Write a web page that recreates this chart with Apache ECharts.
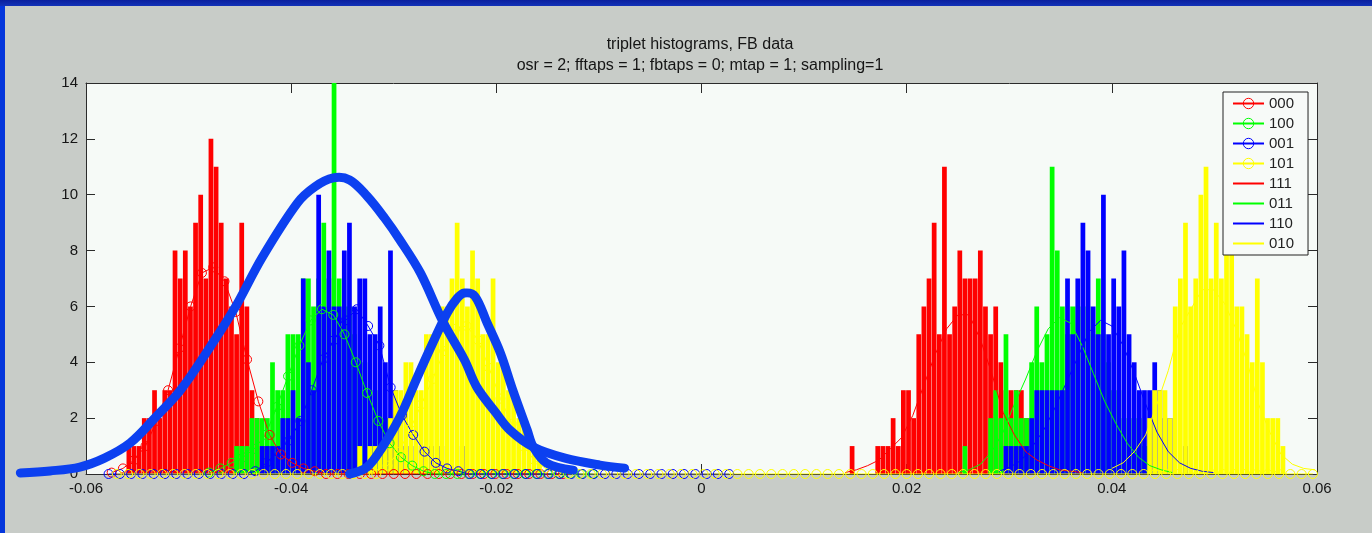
<!DOCTYPE html>
<html><head><meta charset="utf-8">
<script src="https://cdn.jsdelivr.net/npm/echarts@6/dist/echarts.min.js"></script>
<style>
html,body{margin:0;padding:0;width:1372px;height:533px;overflow:hidden;
background:linear-gradient(to bottom,#0a1f9e 0,#1232b8 6px,#0436dc 6px,#0436dc 100%);}
#chart{position:absolute;left:5px;top:6px;width:1367px;height:527px;background:#c8ccc8;}
</style></head><body><div id="chart"></div>
<script>
// ---------- text ----------
const titleLine1 = 'triplet histograms, FB data';
const titleLine2 = 'osr = 2; fftaps = 1; fbtaps = 0; mtap = 1; sampling=1';
const legendNames = ['000','100','001','101','111','011','110','010'];
const legendWithMarkers = ['000','100','001','101'];
const xTickLabels = ['-0.06','-0.04','-0.02','0','0.02','0.04','0.06'];
const yTickLabels = ['0','2','4','6','8','10','12','14'];
const X_MIN = -0.06, X_MAX = 0.06, X_STEP = 0.02, Y_MIN = 0, Y_MAX = 14, Y_STEP = 2;

// ---------- histogram bars (first bin centre, counts per bin) ----------
const BIN = 0.0005;
const bars000Start = -0.0558;
const bars000 = [1,1,1,2,2,3,2,3,3,8,7,8,6,9,10,7,12,11,9,7,6,5,9,6,3,2,1];
const bars100Start = -0.0453;
const bars100 = [1,1,1,2,2,2,2,4,3,3,5,5,5,7,7,6,7,9,7,16,7,6,6,5,4,4,3,3,2,2,1,1,1];
const bars001Start = -0.0428;
const bars001 = [1,1,1,1,2,2,3,2,7,4,3,10,6,8,6,6,8,9,6,7,7,5,5,6,4,8,3,2,1,1,0,1,0,1,0,1,0,0,0,1];
const bars101Start = -0.0333;
const bars101 = [1,0,1,1,1,1,2,3,3,4,4,3,3,5,5,5,6,6,7,9,7,6,8,7,5,5,7,4,4,3,3,2,2,1,1,1];
const bars111Start = 0.0147;
const bars111 = [1,0,0,0,0,1,1,1,2,1,3,3,2,5,6,7,9,5,11,5,6,8,7,7,7,8,6,5,6,4,3,3,3,3,2,1];
const bars011Start = 0.0257;
const bars011 = [1,0,0,0,0,2,3,2,5,2,3,2,2,4,6,4,5,11,8,6,5,6,6,6,6,5,7,5,4,3,3,2,2,2,2,1,1];
const bars110Start = 0.0297;
const bars110 = [1,1,1,1,1,2,3,3,3,3,3,3,7,5,7,9,8,6,5,10,5,7,6,8,5,4,3,3,3,4,3,2,2,0,0,1];
const bars010Start = 0.0437;
const bars010 = [2,3,3,3,2,6,7,9,6,7,10,11,7,9,7,10,8,6,6,5,4,7,4,2,2,2,1];

// ---------- smoothed histogram lines (start x, step, values) ----------
const LSTEP = 0.0011;
const line000Start = -0.0575;
const line000 = [0.05,0.2,0.5,1.0,1.9,3.0,4.5,6.0,7.2,7.4,6.9,5.8,4.1,2.6,1.4,0.7,0.4,0.2,0.1,
  0,0,0,0,0,0,0,0,0,0,0,0,0,0,0,0,0,0,0,0,0,0];
const line100Start = -0.0480;
const line100 = [0.05,0.2,0.4,0.6,0.9,1.4,2.4,3.5,4.6,5.5,5.9,5.7,5.0,4.0,2.9,1.9,1.1,0.6,0.3,0.1,
  0,0,0,0,0,0,0,0,0,0,0,0,0,0,0];
const line001Start = -0.0578;
const line001 = [0,0,0,0,0,0,0,0,0,0,0,0,0,
  0.1,0.4,0.8,1.2,1.9,3.0,4.1,4.8,5.5,5.9,5.3,4.6,3.1,2.1,1.4,0.8,0.4,0.2,0.1,
  0,0,0,0,0,0,0,0,0,0,0,0,0,0,0,0,0,0,0,0,0,0,0,0];
const line101Start = -0.0570;
const line101 = [0,0,0,0,0,0,0,0,0,0,0,0,0,0,0,0,0,0,0,0,0,0,0,0,
  0.3,0.8,1.6,2.5,3.4,4.4,5.2,5.3,4.8,3.8,2.7,1.8,1.0,0.5,0.2,0.1,
  0,0,0,0,0,0,0,0,0,0,0,0,0,0,0,0,0,0,0,0,0,0,0,0,0,0,0,0,0,0,0,0,0,0,0,0,0,
  0,0,0,0,0,0,0,0,0,0,0,0,0,0,0,0,0,0,0,0,0,0,0,0,0,0,0,0,0,0];
const line111Start = 0.0140;
const line111 = [0.05,0.15,0.3,0.5,0.9,1.3,2.1,3.2,4.3,5.2,5.7,5.7,4.8,3.6,2.2,1.4,0.8,0.5,0.3,0.15,0.1,0.05];
const line011Start = 0.0250;
const line011 = [0.05,0.15,0.35,0.8,1.5,2.5,3.4,4.4,5.2,5.6,5.4,4.6,3.6,2.6,1.8,1.1,0.6,0.3,0.15,0.05];
const line110Start = 0.0290;
const line110 = [0.1,0.25,0.5,1.0,1.6,2.4,3.3,4.2,5.1,5.5,5.3,4.6,3.6,2.5,1.5,0.8,0.4,0.2,0.1,0.05];
const line010Start = 0.0400;
const line010 = [0.2,0.4,0.8,1.4,2.5,3.7,5.2,5.9,6.6,6.6,6.1,5.2,4.0,2.5,1.5,0.7,0.35,0.2,0.15];

// ---------- hand-drawn annotation curves (x, y) ----------
const curveWide = [[-0.0664,0.04],[-0.0635,0.11],[-0.0606,0.25],[-0.0582,0.57],[-0.0557,1.11],
  [-0.0533,2.0],[-0.0508,3.0],[-0.0479,4.55],[-0.0455,5.94],[-0.0428,7.77],[-0.0394,9.70],
  [-0.0377,10.28],[-0.0359,10.60],[-0.0343,10.53],[-0.0326,9.95],[-0.0309,9.17],[-0.0294,8.38],
  [-0.0274,7.20],[-0.0252,5.45],[-0.0231,4.08],[-0.0219,3.11],[-0.0201,2.22],[-0.0187,1.58],
  [-0.0164,0.97],[-0.0133,0.57],[-0.0099,0.32],[-0.0075,0.21]];
const curveNarrow = [[-0.0343,0.0],[-0.0326,0.25],[-0.0311,0.97],[-0.0294,2.04],[-0.0277,3.47],
  [-0.0262,4.69],[-0.0248,5.76],[-0.0238,6.30],[-0.0231,6.48],[-0.0221,6.37],[-0.0209,5.41],
  [-0.0196,4.33],[-0.0184,3.01],[-0.0170,1.58],[-0.0164,0.97],[-0.0151,0.39],[-0.0125,0.14]];

// ---------- colours / styles ----------
const RED = '#ff0000', GREEN = '#00ff00', BLUE = '#0000ff', YELLOW = '#ffff00';
const INK = '#2b2b2b';
const FONT = "'Liberation Sans', Arial, sans-serif";

function barSeries(id, start, counts, color) {
  return {
    type: 'custom', id: 'bars' + id, name: 'h' + id, silent: true, clip: true, z: 2,
    data: counts.map((c, i) => [start + i * BIN, c]),
    encode: { x: 0, y: 1 },
    renderItem: function (params, api) {
      const x = api.value(0), y = api.value(1);
      if (!y) return null;
      const p0 = api.coord([x - BIN / 2, 0]);
      const p1 = api.coord([x + BIN / 2, Math.min(y, Y_MAX)]);
      return { type: 'rect',
        shape: { x: p0[0], y: p1[1], width: Math.max(1, p1[0] - p0[0] - 0.4), height: p0[1] - p1[1] },
        style: { fill: color } };
    }
  };
}
function lineSeries(name, start, vals, color, markers) {
  return {
    type: 'line', name: name, z: 3, silent: true,
    data: vals.map((v, i) => [start + i * LSTEP, v]),
    symbol: markers ? 'circle' : 'none', symbolSize: 9, showAllSymbol: true, showSymbol: markers,
    lineStyle: { color: color, width: 1 },
    itemStyle: { color: 'rgba(0,0,0,0)', borderColor: color, borderWidth: 1 },
    emphasis: { disabled: true }
  };
}
function curveSeries(name, pts) {
  return {
    type: 'custom', name: name, z: 10, silent: true, clip: false,
    data: [pts[0]], encode: { x: 0, y: 1 },
    renderItem: function (params, api) {
      const points = pts.map(p => api.coord(p));
      return { type: 'polyline', shape: { points: points, smooth: 0.35 },
        style: { stroke: '#0c40f0', lineWidth: 9, fill: null, lineCap: 'round', lineJoin: 'round' } };
    }
  };
}

const xAxisBase = { type: 'value', min: X_MIN, max: X_MAX, interval: X_STEP, splitLine: { show: false },
  axisLine: { show: true, onZero: false, lineStyle: { color: INK, width: 1 } },
  axisTick: { show: true, inside: true, length: 10, lineStyle: { color: INK } } };
const yAxisBase = { type: 'value', min: Y_MIN, max: Y_MAX, interval: Y_STEP, splitLine: { show: false },
  axisLine: { show: true, onZero: false, lineStyle: { color: INK, width: 1 } },
  axisTick: { show: true, inside: true, length: 9, lineStyle: { color: INK } } };

const chart = echarts.init(document.getElementById('chart'), null, { renderer: 'canvas' });
chart.setOption({
  animation: false,
  backgroundColor: 'transparent',
  title: {
    text: titleLine1 + '\n' + titleLine2, left: 695, top: 28, textAlign: 'center', padding: 0,
    textStyle: { fontFamily: FONT, fontSize: 16, fontWeight: 'normal', color: '#151515', lineHeight: 21 }
  },
  grid: { left: 81, right: 55, top: 77, bottom: 59, show: true, backgroundColor: '#f6faf7', borderWidth: 0 },
  legend: {
    data: legendNames.map(n => legendWithMarkers.includes(n) ? { name: n, itemStyle: { borderWidth: 1 } } :
      { name: n, itemStyle: { color: 'rgba(0,0,0,0)', borderColor: 'rgba(0,0,0,0)', borderWidth: 0 } }),
    orient: 'vertical', left: 1218, top: 86, selectedMode: false,
    backgroundColor: '#f7faf8', borderColor: '#222', borderWidth: 1, borderRadius: 0,
    padding: [4, 14, 4, 9], itemWidth: 31, itemHeight: 13, itemGap: 5,
    textStyle: { fontFamily: FONT, fontSize: 15, color: '#222', lineHeight: 15 }
  },
  xAxis: [
    Object.assign({}, xAxisBase, { position: 'bottom',
      axisLabel: { margin: 7, fontFamily: FONT, fontSize: 15, color: '#151515',
        formatter: v => xTickLabels[Math.round((v - X_MIN) / X_STEP)] } }),
    Object.assign({}, xAxisBase, { position: 'top', axisLabel: { show: false } })
  ],
  yAxis: [
    Object.assign({}, yAxisBase, { position: 'left',
      axisLabel: { margin: 8, fontFamily: FONT, fontSize: 15, color: '#151515',
        formatter: v => yTickLabels[Math.round((v - Y_MIN) / Y_STEP)] } }),
    Object.assign({}, yAxisBase, { position: 'right', axisLabel: { show: false } })
  ],
  series: [
    barSeries('000', bars000Start, bars000, RED),
    barSeries('100', bars100Start, bars100, GREEN),
    barSeries('001', bars001Start, bars001, BLUE),
    barSeries('101', bars101Start, bars101, YELLOW),
    barSeries('111', bars111Start, bars111, RED),
    barSeries('011', bars011Start, bars011, GREEN),
    barSeries('110', bars110Start, bars110, BLUE),
    barSeries('010', bars010Start, bars010, YELLOW),
    lineSeries('000', line000Start, line000, RED, true),
    lineSeries('100', line100Start, line100, GREEN, true),
    lineSeries('001', line001Start, line001, BLUE, true),
    lineSeries('101', line101Start, line101, YELLOW, true),
    lineSeries('111', line111Start, line111, RED, false),
    lineSeries('011', line011Start, line011, GREEN, false),
    lineSeries('110', line110Start, line110, BLUE, false),
    lineSeries('010', line010Start, line010, YELLOW, false),
    curveSeries('annotWide', curveWide),
    curveSeries('annotNarrow', curveNarrow)
  ]
});
</script></body></html>
